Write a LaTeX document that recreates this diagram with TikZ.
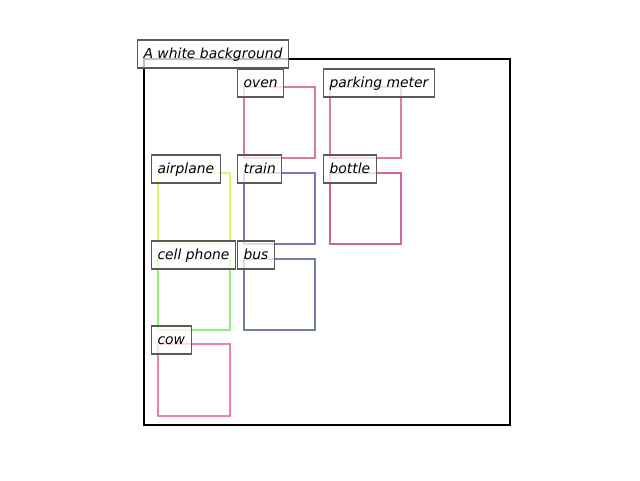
\documentclass[tikz,border=0pt]{standalone}
\usepackage{fontspec}
\setsansfont{DejaVu Sans}
\usepackage{tikz}

\definecolor{ovencol}{RGB}{214,122,160}
\definecolor{metercol}{RGB}{220,122,170}
\definecolor{planecol}{RGB}{226,242,112}
\definecolor{traincol}{RGB}{135,110,195}
\definecolor{bottlecol}{RGB}{210,100,160}
\definecolor{phonecol}{RGB}{150,238,122}
\definecolor{buscol}{RGB}{115,125,165}
\definecolor{cowcol}{RGB}{240,125,180}
\definecolor{tagedge}{RGB}{90,90,90}

\tikzset{
  objbox/.style={line width=2.5pt},
  tag/.style={draw=tagedge,fill=white,fill opacity=0.75,text opacity=1,
    line width=1.1pt,anchor=west,inner xsep=6pt,inner ysep=0pt,
    text height=11pt,text depth=3pt,minimum height=28pt,
    font=\fontsize{13.9}{16}\selectfont\sffamily\itshape}
}

\begin{document}
\begin{tikzpicture}[x=1pt,y=-1pt]
\useasboundingbox (0,0) rectangle (640,480);
% frame:
\path[draw=black,line width=2pt] (144,59) rectangle (510,425);
% objects:
\path[draw=ovencol,objbox] (244,87) rectangle (315,158);
\path[draw=metercol,objbox] (330,87) rectangle (401,158);
\path[draw=planecol,objbox] (158,173) rectangle (230,244);
\path[draw=traincol,objbox] (244,173) rectangle (315,244);
\path[draw=bottlecol,objbox] (330,173) rectangle (401,244);
\path[draw=phonecol,objbox] (158,259) rectangle (230,330);
\path[draw=buscol,objbox] (244,259) rectangle (315,330);
\path[draw=cowcol,objbox] (158,344) rectangle (230,416);
% labels:
\node[tag] (title) at (137,54) {A white background};
\node[tag] (oven) at (237,83) {oven};
\node[tag] (meter) at (323,83) {parking meter};
\node[tag] (plane) at (151,169) {airplane};
\node[tag] (train) at (237,169) {train};
\node[tag] (bottle) at (323,169) {bottle};
\node[tag] (phone) at (151,255) {cell phone};
\node[tag] (bus) at (237,255) {bus};
\node[tag] (cow) at (151,340) {cow};
\end{tikzpicture}
\end{document}
